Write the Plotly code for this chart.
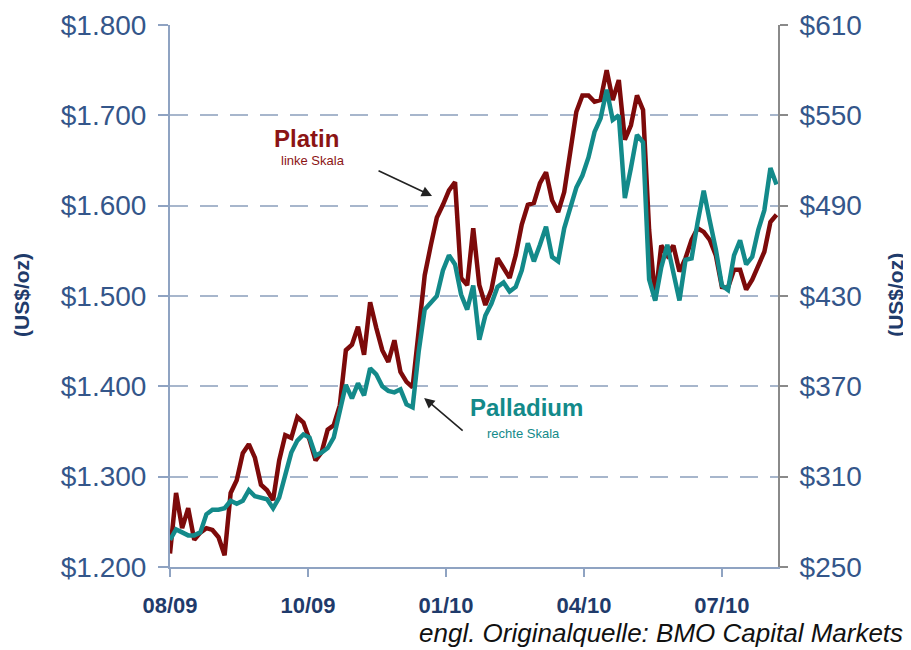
import pandas as pd
import plotly.graph_objects as go

# ---- data ----
start_date = "2009-07-31"
n_points = 101
dates = pd.date_range(start_date, periods=n_points, freq="4D")

platin = [1215, 1282, 1243, 1265, 1230, 1238, 1243, 1241, 1233, 1213,
          1282, 1296, 1326, 1336, 1321, 1291, 1285, 1274, 1318, 1346,
          1343, 1366, 1360, 1341, 1318, 1327, 1352, 1357, 1379, 1440,
          1446, 1466, 1435, 1493, 1465, 1440, 1427, 1451, 1416, 1405,
          1399, 1462, 1523, 1556, 1587, 1601, 1617, 1626, 1520, 1512,
          1575, 1512, 1490, 1507, 1542, 1531, 1520, 1545, 1579, 1601,
          1603, 1625, 1637, 1606, 1593, 1615, 1662, 1704, 1722, 1722,
          1715, 1717, 1750, 1717, 1739, 1673, 1689, 1722, 1706, 1573,
          1496, 1556, 1545, 1556, 1527, 1542, 1562, 1575, 1571, 1562,
          1545, 1510, 1509, 1529, 1529, 1507, 1518, 1534, 1549, 1582,
          1590]

palladium = [268, 275, 273, 271, 271, 273, 285, 288, 288, 289,
             294, 292, 294, 301, 297, 296, 295, 289, 296, 311,
             326, 334, 338, 336, 324, 326, 329, 336, 354, 371,
             362, 372, 364, 382, 378, 370, 367, 366, 368, 358,
             356, 393, 421, 426, 430, 447, 457, 451, 431, 421,
             437, 401, 417, 425, 436, 439, 433, 436, 447, 465,
             453, 464, 476, 456, 453, 475, 489, 502, 510, 522,
             539, 548, 567, 547, 550, 495, 515, 537, 532, 441,
             427, 449, 464, 446, 427, 454, 455, 479, 500, 480,
             461, 437, 434, 457, 467, 451, 456, 474, 487, 515,
             504]

x_tick_dates = ["2009-07-31", "2009-10-30", "2010-01-29", "2010-04-30", "2010-07-30"]
x_tick_labels = ["08/09", "10/09", "01/10", "04/10", "07/10"]

left_ticks = [1200, 1300, 1400, 1500, 1600, 1700, 1800]
left_labels = ["$1.200", "$1.300", "$1.400", "$1.500", "$1.600", "$1.700", "$1.800"]
right_ticks = [250, 310, 370, 430, 490, 550, 610]
right_labels = ["$250", "$310", "$370", "$430", "$490", "$550", "$610"]

# ---- styles ----
RED = "#7d0a0a"
TEAL = "#138a8a"
NAVY = "#1f3b6b"
TICKBLUE = "#34568a"
FONT = "Liberation Sans, Arial, sans-serif"

fig = go.Figure()
fig.add_trace(go.Scatter(x=dates, y=platin, mode="lines", name="Platin",
                         line=dict(color=RED, width=4.5), yaxis="y"))
fig.add_trace(go.Scatter(x=dates, y=palladium, mode="lines", name="Palladium",
                         line=dict(color=TEAL, width=4.5), yaxis="y2"))

fig.update_layout(
    width=911, height=650,
    margin=dict(l=162, r=141, t=17, b=91, autoexpand=False),
    paper_bgcolor="white", plot_bgcolor="white",
    showlegend=False,
    font=dict(family=FONT),
    xaxis=dict(
        range=["2009-07-31", "2010-09-05"],
        tickvals=x_tick_dates, ticktext=x_tick_labels,
        tickfont=dict(size=22, color=NAVY, family=FONT, weight="bold"),
        showgrid=False, zeroline=False, automargin=False,
        showline=True, linecolor="#8fa3c2", linewidth=2,
        ticks="outside", ticklen=8, tickcolor="#8fa3c2", tickwidth=2,
        ticklabelstandoff=10,
    ),
    yaxis=dict(
        range=[1200, 1800],
        tickvals=left_ticks, ticktext=left_labels,
        tickfont=dict(size=28, color=TICKBLUE),
        showgrid=True, gridcolor="#a7b6cc", gridwidth=2, griddash="18px,12px",
        zeroline=False, automargin=False,
        showline=True, linecolor="#8fa3c2", linewidth=2,
        ticks="outside", ticklen=10, tickcolor="#8fa3c2", tickwidth=2,
        ticklabelstandoff=6,
    ),
    yaxis2=dict(
        range=[250, 610], overlaying="y", side="right",
        tickvals=right_ticks, ticktext=right_labels,
        tickfont=dict(size=28, color=TICKBLUE),
        showgrid=False, zeroline=False, automargin=False,
        showline=True, linecolor="#8a8a8a", linewidth=2,
        ticks="outside", ticklen=8, tickcolor="#8a8a8a", tickwidth=2,
        ticklabelstandoff=6,
    ),
)

ann = []
# axis titles
ann.append(dict(text="<b>(US$/oz)</b>", xref="paper", yref="paper", x=-0.2434, y=0.502,
                xanchor="center", yanchor="middle",
                showarrow=False, textangle=-90, font=dict(size=21, color=NAVY)))
ann.append(dict(text="<b>(US$/oz)</b>", xref="paper", yref="paper", x=1.194, y=0.502,
                xanchor="center", yanchor="middle",
                showarrow=False, textangle=-90, font=dict(size=21, color=NAVY)))
# series labels
ann.append(dict(text="<b>Platin</b>", xref="paper", yref="paper", x=0.168, y=0.79,
                xanchor="left", yanchor="middle", showarrow=False,
                font=dict(size=24, color="#8b1414")))
ann.append(dict(text="linke Skala", xref="paper", yref="paper", x=0.18, y=0.75,
                xanchor="left", yanchor="middle", showarrow=False,
                font=dict(size=13, color="#8b1414")))
ann.append(dict(text="<b>Palladium</b>", xref="paper", yref="paper", x=0.49, y=0.2935,
                xanchor="left", yanchor="middle", showarrow=False,
                font=dict(size=24, color=TEAL)))
ann.append(dict(text="rechte Skala", xref="paper", yref="paper", x=0.518, y=0.247,
                xanchor="left", yanchor="middle", showarrow=False,
                font=dict(size=13, color=TEAL)))
# arrows
ann.append(dict(text="", xref="paper", yref="paper", x=0.431, y=0.6845, ax=-55, ay=-26,
                showarrow=True, arrowhead=2, arrowsize=1.3, arrowwidth=1.6, arrowcolor="#222222"))
ann.append(dict(text="", xref="paper", yref="paper", x=0.418, y=0.312, ax=40, ay=34,
                showarrow=True, arrowhead=2, arrowsize=1.3, arrowwidth=1.6, arrowcolor="#222222"))
# source
ann.append(dict(text="<i>engl. Originalquelle: BMO Capital Markets</i>", xref="paper", yref="paper",
                x=1.209, y=-0.121, xanchor="right", yanchor="middle", showarrow=False,
                font=dict(size=26, color="#111111")))
fig.update_layout(annotations=ann)

fig.write_html("out.html")
